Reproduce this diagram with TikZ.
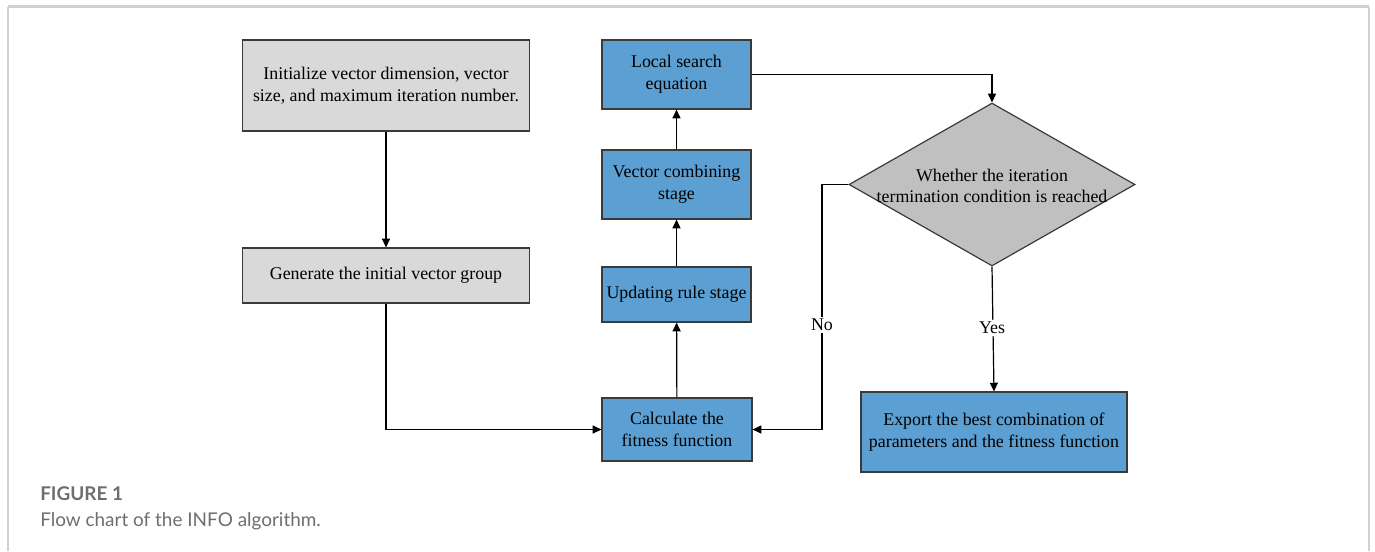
\documentclass[tikz,border=0pt]{standalone}
\usepackage{fontspec}
\setmainfont{Liberation Serif}
\newfontfamily\capfont{Lato}
\usetikzlibrary{shapes.geometric,arrows.meta}
\definecolor{boxblue}{HTML}{5B9FD3}
\definecolor{boxgray}{HTML}{D9D9D9}
\definecolor{diagray}{HTML}{C0C0C0}
\definecolor{edge}{HTML}{3A3A3A}
\definecolor{framegray}{HTML}{D0D0D0}
\definecolor{capgray}{HTML}{6E6E6E}
\tikzset{
  px/.style={x=0.75pt,y=-0.75pt},
  boxfont/.style={font=\fontsize{13.4}{16.3}\selectfont},
  graybox/.style={draw=edge,fill=boxgray,line width=0.9pt,align=center,inner sep=2pt,boxfont},
  bluebox/.style={draw=edge,fill=boxblue,line width=0.9pt,align=center,inner sep=2pt,boxfont},
  conn/.style={line width=0.9pt,draw=black,-{Triangle[length=6.5pt,width=6pt]}},
  lbl/.style={fill=white,inner sep=1.5pt,boxfont},
}
\begin{document}
\begin{tikzpicture}[px]
\useasboundingbox (0,0) rectangle (1375,551);
% frame
\draw[framegray,line width=1.8pt] (8,6.5) -- (1369,6.5);
\draw[framegray,line width=0.9pt] (8,6.5) -- (8,551);
\draw[framegray,line width=0.9pt] (1369,6.5) -- (1369,551);
% nodes
\node[graybox,minimum width=215.25pt,minimum height=68.25pt] (init) at (386,85.5)
  {Initialize vector dimension, vector\\size, and maximum iteration number.};
\node[graybox,minimum width=215.25pt,minimum height=41.25pt] (gen) at (386,275.5)
  {Generate the initial vector group};
\node[bluebox,minimum width=111.75pt,minimum height=51.75pt] (local) at (676.5,74.5)
  {Local search\\equation};
\node[bluebox,minimum width=111.75pt,minimum height=51.75pt] (comb) at (676.5,184.5)
  {Vector combining\\stage};
\node[bluebox,minimum width=111.75pt,minimum height=41.25pt] (upd) at (676.5,294.5)
  {Updating rule stage};
\node[bluebox,minimum width=112.5pt,minimum height=47.25pt] (calc) at (677,429.5)
  {Calculate the\\fitness function};
\node[bluebox,minimum width=199.5pt,minimum height=60pt] (exp) at (994,432)
  {Export the best combination of\\parameters and the fitness function};
\node[diamond,draw=edge,fill=diagray,line width=0.9pt,inner sep=0pt,
  minimum width=214.5pt,minimum height=122.25pt] (dec) at (992,184.5) {};
\node[align=center,boxfont] (dect) at (992,186)
  {Whether the iteration\\termination condition is reached};
% coordinates
\coordinate (c1) at (822,184.5);
\coordinate (c2) at (822,429.5);
% connectors
\draw[conn] (init) -- (gen);
\draw[conn] (gen.south) -- (gen.south |- calc.west) -- (calc.west);
\draw[conn] (calc) -- (upd);
\draw[conn] (upd) -- (comb);
\draw[conn] (comb) -- (local);
\draw[conn] (local.east) -- (local.east -| dec.north) -- (dec.north);
\draw[conn] (dec.west) -- (c1) -- (c2) -- (calc.east);
\draw[conn] (dec.south) -- (exp.north);
\node[lbl] (no) at (822,325) {No};
\node[lbl] (yes) at (992,328) {Yes};
% caption
\node[anchor=base west,inner sep=0pt,text=capgray,font=\capfont\bfseries\fontsize{14.2}{16}\selectfont] (fig) at (40,500) {FIGURE 1};
\node[anchor=base west,inner sep=0pt,text=capgray,font=\capfont\fontsize{14.2}{16}\selectfont] (cap) at (40,526) {Flow chart of the INFO algorithm.};
\end{tikzpicture}
\end{document}
